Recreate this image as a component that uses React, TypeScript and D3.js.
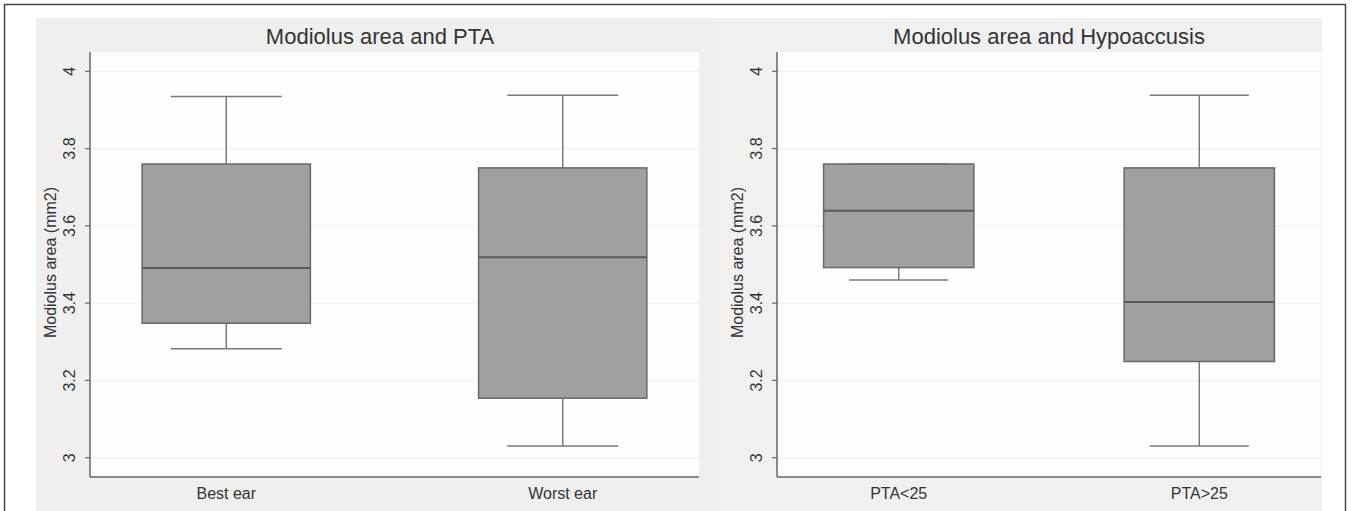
import React, { useEffect, useRef } from 'react';
import * as d3 from 'd3';

// values (mm2)
const ptaGroups = ['Best ear', 'Worst ear'];
const ptaStats = [
	{ min: 3.282, q1: 3.348, median: 3.491, q3: 3.76, max: 3.935 },
	{ min: 3.03, q1: 3.154, median: 3.519, q3: 3.75, max: 3.938 },
];
const hypoGroups = ['PTA<25', 'PTA>25'];
const hypoStats = [
	{ min: 3.46, q1: 3.492, median: 3.639, q3: 3.76, max: 3.76 },
	{ min: 3.03, q1: 3.249, median: 3.403, q3: 3.75, max: 3.938 },
];
const yTicks = [3, 3.2, 3.4, 3.6, 3.8, 4];
const yTickLabels = ['3', '3.2', '3.4', '3.6', '3.8', '4'];

const font = 'Liberation Sans, Arial, sans-serif';

function drawPanel(svg, opts) {
	const { panel, plot, title, titleX, groups, stats } = opts;
	const g = svg.append('g');

	g.append('rect')
		.attr('x', panel.x0)
		.attr('y', panel.y0)
		.attr('width', panel.x1 - panel.x0)
		.attr('height', panel.y1 - panel.y0)
		.attr('fill', panel.fill);

	g.append('rect')
		.attr('x', plot.x0)
		.attr('y', plot.y0)
		.attr('width', plot.x1 - plot.x0)
		.attr('height', plot.y1 - plot.y0)
		.attr('fill', '#fdfdfd');

	const yScale = d3.scaleLinear().domain([2.95, 4.05]).range([plot.y1, plot.y0]);
	const xScale = d3.scalePoint().domain(groups).range([plot.x0, plot.x1]).padding(0.405);
	const step = xScale.step();

	// grid
	g.selectAll('.grid')
		.data(yTicks)
		.enter()
		.append('line')
		.attr('x1', plot.x0)
		.attr('x2', plot.x1)
		.attr('y1', d => yScale(d))
		.attr('y2', d => yScale(d))
		.attr('stroke', '#efefef')
		.attr('stroke-width', 1);

	// axes
	g.append('line')
		.attr('x1', plot.x0)
		.attr('x2', plot.x0)
		.attr('y1', plot.y0)
		.attr('y2', plot.y1)
		.attr('stroke', '#666')
		.attr('stroke-width', 1.5);
	g.append('line')
		.attr('x1', plot.x0)
		.attr('x2', plot.x1)
		.attr('y1', plot.y1)
		.attr('y2', plot.y1)
		.attr('stroke', '#666')
		.attr('stroke-width', 1.5);

	g.selectAll('.tick')
		.data(yTicks)
		.enter()
		.append('line')
		.attr('x1', plot.x0 - 5)
		.attr('x2', plot.x0)
		.attr('y1', d => yScale(d))
		.attr('y2', d => yScale(d))
		.attr('stroke', '#666')
		.attr('stroke-width', 1.2);

	g.selectAll('.ticklabel')
		.data(yTicks)
		.enter()
		.append('text')
		.attr('transform', d => `translate(${plot.x0 - 15},${yScale(d)}) rotate(-90)`)
		.attr('text-anchor', 'middle')
		.attr('font-size', 16)
		.attr('fill', '#333')
		.text((d, i) => yTickLabels[i]);

	g.append('text')
		.attr('transform', `translate(${plot.x0 - 34},${(plot.y0 + plot.y1) / 2 - 2}) rotate(-90)`)
		.attr('text-anchor', 'middle')
		.attr('font-size', 16)
		.attr('fill', '#333')
		.text('Modiolus area (mm2)');

	// title
	g.append('text')
		.attr('x', titleX)
		.attr('y', 44)
		.attr('text-anchor', 'middle')
		.attr('font-size', 22)
		.attr('fill', '#333')
		.text(title);

	// x labels
	g.selectAll('.xlabel')
		.data(groups)
		.enter()
		.append('text')
		.attr('x', d => xScale(d))
		.attr('y', 499)
		.attr('text-anchor', 'middle')
		.attr('font-size', 16)
		.attr('fill', '#333')
		.text(d => d);

	// boxes
	const boxes = g
		.selectAll('.box')
		.data(stats.map((s, i) => ({ ...s, cx: xScale(groups[i]) })))
		.enter()
		.append('g');

	const boxW = step * 0.5;
	const capW = step * 0.33;

	boxes.append('line')
		.attr('x1', d => d.cx)
		.attr('x2', d => d.cx)
		.attr('y1', d => yScale(d.max))
		.attr('y2', d => yScale(d.q3))
		.attr('stroke', '#7a7a7a')
		.attr('stroke-width', 1.5);
	boxes.append('line')
		.attr('x1', d => d.cx)
		.attr('x2', d => d.cx)
		.attr('y1', d => yScale(d.min))
		.attr('y2', d => yScale(d.q1))
		.attr('stroke', '#7a7a7a')
		.attr('stroke-width', 1.5);
	boxes.append('line')
		.attr('x1', d => d.cx - capW / 2)
		.attr('x2', d => d.cx + capW / 2)
		.attr('y1', d => yScale(d.max))
		.attr('y2', d => yScale(d.max))
		.attr('stroke', '#7a7a7a')
		.attr('stroke-width', 1.5);
	boxes.append('line')
		.attr('x1', d => d.cx - capW / 2)
		.attr('x2', d => d.cx + capW / 2)
		.attr('y1', d => yScale(d.min))
		.attr('y2', d => yScale(d.min))
		.attr('stroke', '#7a7a7a')
		.attr('stroke-width', 1.5);

	boxes.append('rect')
		.attr('x', d => d.cx - boxW / 2)
		.attr('width', boxW)
		.attr('y', d => yScale(d.q3))
		.attr('height', d => yScale(d.q1) - yScale(d.q3))
		.attr('fill', '#a0a0a0')
		.attr('stroke', '#686868')
		.attr('stroke-width', 1.5);

	boxes.append('line')
		.attr('x1', d => d.cx - boxW / 2)
		.attr('x2', d => d.cx + boxW / 2)
		.attr('y1', d => yScale(d.median))
		.attr('y2', d => yScale(d.median))
		.attr('stroke', '#5a5a5a')
		.attr('stroke-width', 2);
}

export default function App() {
	const ref = useRef(null);

	useEffect(() => {
		const svg = d3.select(ref.current);
		svg.selectAll('*').remove();

		svg.append('rect').attr('width', 1354).attr('height', 511).attr('fill', '#fff');
		// outer frame, runs past the bottom of the picture
		svg.append('rect')
			.attr('x', 4.5)
			.attr('y', 4.5)
			.attr('width', 1341)
			.attr('height', 530)
			.attr('fill', 'none')
			.attr('stroke', '#444')
			.attr('stroke-width', 1.5);

		drawPanel(svg, {
			panel: { x0: 36, x1: 714, y0: 18, y1: 511, fill: '#efefef' },
			plot: { x0: 90, x1: 699, y0: 52, y1: 477 },
			title: 'Modiolus area and PTA',
			titleX: 380,
			groups: ptaGroups,
			stats: ptaStats,
		});
		drawPanel(svg, {
			panel: { x0: 714, x1: 1322, y0: 18, y1: 511, fill: '#f0f0f0' },
			plot: { x0: 777, x1: 1321, y0: 52, y1: 477 },
			title: 'Modiolus area and Hypoaccusis',
			titleX: 1049,
			groups: hypoGroups,
			stats: hypoStats,
		});
	}, []);

	return (
		<svg
			ref={ref}
			width={1354}
			height={511}
			style={{ position: 'absolute', left: 0, top: 0, fontFamily: font }}
		/>
	);
}
